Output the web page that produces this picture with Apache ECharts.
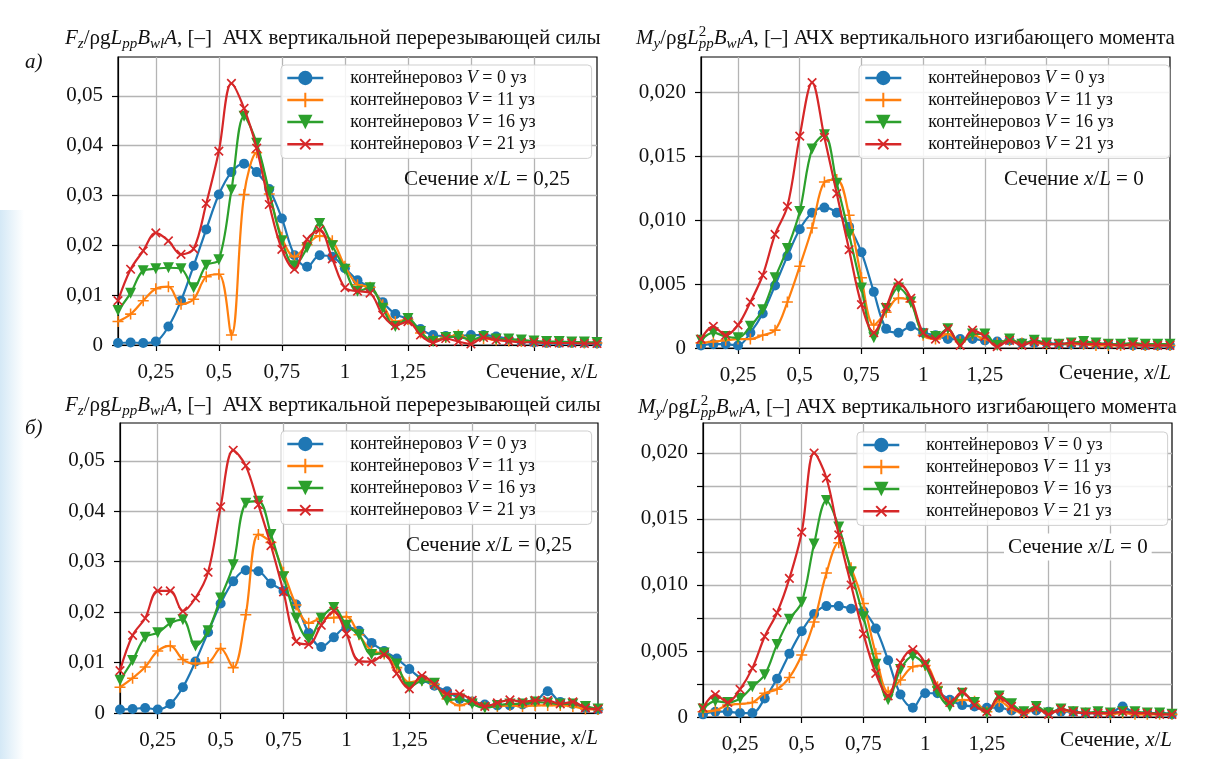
<!DOCTYPE html>
<html>
<head>
<meta charset="utf-8">
<script src="https://cdn.jsdelivr.net/npm/echarts@6/dist/echarts.min.js"></script>
<style>
  html, body { margin: 0; padding: 0; background: #fff; }
  #main { width: 1226px; height: 759px; }
</style>
</head>
<body>
<div id="main"></div>
<script>
// сечения x/L
var sections = [0.10, 0.15, 0.20, 0.25, 0.30, 0.35, 0.40, 0.45, 0.50,
  0.55, 0.60, 0.65, 0.70, 0.75, 0.80, 0.85, 0.90, 0.95, 1.00,
  1.05, 1.10, 1.15, 1.20, 1.25, 1.30, 1.35, 1.40, 1.45, 1.50,
  1.55, 1.60, 1.65, 1.70, 1.75, 1.80, 1.85, 1.90, 1.95, 2.00];

var seriesNames = ['контейнеровоз V = 0 уз', 'контейнеровоз V = 11 уз',
  'контейнеровоз V = 16 уз', 'контейнеровоз V = 21 уз'];

var xTickValues = [0.25, 0.5, 0.75, 1, 1.25, 1.5, 1.75];
var xLabelValues = [0.25, 0.5, 0.75, 1, 1.25];

// а) перерезывающая сила, x/L = 0,25
var shearTop_v0 = [0.0004, 0.0005, 0.0004, 0.0007, 0.0037, 0.0089, 0.0159, 0.0232, 0.0302,
  0.0347, 0.0364, 0.0347, 0.0313, 0.0254, 0.0180, 0.0157, 0.0180, 0.0177, 0.0154,
  0.0130, 0.0115, 0.0086, 0.0062, 0.0052, 0.0032, 0.0020, 0.0018, 0.0018, 0.0020,
  0.0020, 0.0017, 0.0012, 0.0008, 0.0005, 0.0004, 0.0004, 0.0004, 0.0004, 0.0003];
var shearTop_v11 = [0.0047, 0.0062, 0.0089, 0.0113, 0.0117, 0.0082, 0.0092, 0.0137, 0.0142,
  0.0020, 0.0302, 0.0386, 0.0303, 0.0216, 0.0177, 0.0201, 0.0219, 0.0209, 0.0158,
  0.0121, 0.0116, 0.0081, 0.0047, 0.0051, 0.0024, 0.0010, 0.0015, 0.0020, 0.0010,
  0.0013, 0.0010, 0.0008, 0.0007, 0.0006, 0.0005, 0.0005, 0.0005, 0.0004, 0.0004];
var shearTop_v16 = [0.0069, 0.0104, 0.0149, 0.0153, 0.0155, 0.0153, 0.0115, 0.0160, 0.0171,
  0.0311, 0.0459, 0.0405, 0.0307, 0.0209, 0.0159, 0.0195, 0.0244, 0.0199, 0.0152,
  0.0108, 0.0115, 0.0074, 0.0037, 0.0053, 0.0027, 0.0007, 0.0015, 0.0017, 0.0010,
  0.0017, 0.0012, 0.0012, 0.0010, 0.0008, 0.0007, 0.0007, 0.0006, 0.0006, 0.0005];
var shearTop_v21 = [0.0089, 0.0152, 0.0189, 0.0225, 0.0209, 0.0182, 0.0193, 0.0284, 0.0389,
  0.0525, 0.0475, 0.0395, 0.0282, 0.0192, 0.0152, 0.0212, 0.0231, 0.0173, 0.0115,
  0.0108, 0.0104, 0.0060, 0.0039, 0.0047, 0.0020, 0.0005, 0.0013, 0.0007, 0.0002,
  0.0015, 0.0010, 0.0008, 0.0005, 0.0006, 0.0004, 0.0004, 0.0004, 0.0003, 0.0003];

// а) изгибающий момент, x/L = 0
var momentTop_v0 = [0.0002, 0.0003, 0.0003, 0.0002, 0.0012, 0.0027, 0.0049, 0.0072, 0.0093,
  0.0106, 0.0110, 0.0106, 0.0095, 0.0075, 0.0044, 0.0015, 0.0012, 0.0017, 0.0012,
  0.0010, 0.0007, 0.0007, 0.0007, 0.0006, 0.0005, 0.0006, 0.0004, 0.0004, 0.0004,
  0.0003, 0.0003, 0.0003, 0.0003, 0.0003, 0.0003, 0.0002, 0.0002, 0.0002, 0.0002];
var momentTop_v11 = [0.0004, 0.0005, 0.0006, 0.0007, 0.0007, 0.0010, 0.0014, 0.0036, 0.0064,
  0.0094, 0.0130, 0.0132, 0.0104, 0.0055, 0.0018, 0.0028, 0.0039, 0.0036, 0.0010,
  0.0007, 0.0011, 0.0005, 0.0010, 0.0007, 0.0004, 0.0006, 0.0004, 0.0004, 0.0003,
  0.0003, 0.0003, 0.0003, 0.0002, 0.0002, 0.0002, 0.0002, 0.0002, 0.0002, 0.0002];
var momentTop_v16 = [0.0006, 0.0012, 0.0009, 0.0008, 0.0017, 0.0030, 0.0055, 0.0078, 0.0107,
  0.0156, 0.0167, 0.0129, 0.0089, 0.0047, 0.0008, 0.0031, 0.0047, 0.0036, 0.0011,
  0.0009, 0.0015, 0.0003, 0.0011, 0.0011, 0.0002, 0.0007, 0.0003, 0.0006, 0.0004,
  0.0003, 0.0004, 0.0005, 0.0004, 0.0003, 0.0003, 0.0004, 0.0003, 0.0003, 0.0003];
var momentTop_v21 = [0.0007, 0.0017, 0.0010, 0.0018, 0.0036, 0.0057, 0.0089, 0.0111, 0.0166,
  0.0208, 0.0165, 0.0121, 0.0077, 0.0034, 0.0012, 0.0032, 0.0051, 0.0039, 0.0012,
  0.0007, 0.0015, 0.0002, 0.0014, 0.0009, 0.0001, 0.0006, 0.0002, 0.0005, 0.0003,
  0.0003, 0.0004, 0.0003, 0.0003, 0.0003, 0.0002, 0.0003, 0.0002, 0.0002, 0.0002];

// б) перерезывающая сила, x/L = 0,25
var shearBottom_v0 = [0.0007, 0.0008, 0.0010, 0.0007, 0.0018, 0.0051, 0.0102, 0.0160, 0.0217,
  0.0261, 0.0283, 0.0281, 0.0257, 0.0242, 0.0215, 0.0159, 0.0131, 0.0150, 0.0170,
  0.0163, 0.0139, 0.0123, 0.0108, 0.0087, 0.0067, 0.0054, 0.0043, 0.0028, 0.0023,
  0.0017, 0.0015, 0.0015, 0.0017, 0.0022, 0.0043, 0.0022, 0.0018, 0.0010, 0.0007];
var shearBottom_v11 = [0.0051, 0.0069, 0.0091, 0.0123, 0.0133, 0.0106, 0.0098, 0.0100, 0.0128,
  0.0090, 0.0195, 0.0354, 0.0338, 0.0279, 0.0214, 0.0178, 0.0188, 0.0189, 0.0191,
  0.0155, 0.0123, 0.0117, 0.0090, 0.0061, 0.0065, 0.0057, 0.0028, 0.0015, 0.0022,
  0.0012, 0.0013, 0.0015, 0.0013, 0.0015, 0.0015, 0.0015, 0.0013, 0.0008, 0.0007];
var shearBottom_v16 = [0.0065, 0.0104, 0.0150, 0.0159, 0.0178, 0.0185, 0.0133, 0.0163, 0.0228,
  0.0294, 0.0416, 0.0420, 0.0354, 0.0270, 0.0188, 0.0146, 0.0188, 0.0209, 0.0174,
  0.0155, 0.0116, 0.0119, 0.0097, 0.0051, 0.0063, 0.0059, 0.0025, 0.0028, 0.0018,
  0.0010, 0.0015, 0.0018, 0.0018, 0.0022, 0.0020, 0.0018, 0.0018, 0.0013, 0.0008];
var shearBottom_v21 = [0.0084, 0.0154, 0.0188, 0.0242, 0.0242, 0.0202, 0.0228, 0.0279, 0.0409,
  0.0521, 0.0490, 0.0413, 0.0332, 0.0240, 0.0142, 0.0136, 0.0174, 0.0202, 0.0157,
  0.0103, 0.0102, 0.0116, 0.0078, 0.0048, 0.0074, 0.0057, 0.0038, 0.0038, 0.0025,
  0.0013, 0.0020, 0.0026, 0.0022, 0.0025, 0.0025, 0.0018, 0.0022, 0.0010, 0.0008];

// б) изгибающий момент, x/L = 0
var momentBottom_v0 = [0.0002, 0.0004, 0.0004, 0.0003, 0.0003, 0.0014, 0.0029, 0.0048, 0.0065,
  0.0078, 0.0084, 0.0084, 0.0082, 0.0080, 0.0067, 0.0043, 0.0017, 0.0007, 0.0018,
  0.0018, 0.0013, 0.0009, 0.0008, 0.0007, 0.0007, 0.0005, 0.0004, 0.0005, 0.0004,
  0.0004, 0.0004, 0.0003, 0.0003, 0.0003, 0.0008, 0.0003, 0.0003, 0.0003, 0.0002];
var momentBottom_v11 = [0.0004, 0.0005, 0.0009, 0.0010, 0.0011, 0.0018, 0.0021, 0.0030, 0.0047,
  0.0072, 0.0109, 0.0132, 0.0113, 0.0086, 0.0048, 0.0019, 0.0028, 0.0038, 0.0039,
  0.0023, 0.0011, 0.0013, 0.0012, 0.0004, 0.0012, 0.0006, 0.0003, 0.0006, 0.0003,
  0.0005, 0.0004, 0.0003, 0.0003, 0.0002, 0.0003, 0.0002, 0.0002, 0.0002, 0.0002];
var momentBottom_v16 = [0.0006, 0.0012, 0.0011, 0.0014, 0.0023, 0.0032, 0.0055, 0.0074, 0.0087,
  0.0131, 0.0164, 0.0144, 0.0110, 0.0076, 0.0040, 0.0013, 0.0036, 0.0046, 0.0039,
  0.0019, 0.0008, 0.0018, 0.0011, 0.0003, 0.0016, 0.0010, 0.0004, 0.0008, 0.0003,
  0.0006, 0.0004, 0.0003, 0.0004, 0.0003, 0.0004, 0.0004, 0.0003, 0.0003, 0.0002];
var momentBottom_v21 = [0.0007, 0.0017, 0.0011, 0.0021, 0.0037, 0.0061, 0.0079, 0.0105, 0.0140,
  0.0200, 0.0181, 0.0138, 0.0100, 0.0063, 0.0033, 0.0016, 0.0041, 0.0051, 0.0041,
  0.0023, 0.0011, 0.0019, 0.0009, 0.0004, 0.0015, 0.0008, 0.0003, 0.0007, 0.0002,
  0.0006, 0.0004, 0.0003, 0.0003, 0.0003, 0.0004, 0.0003, 0.0003, 0.0002, 0.0002];

var FONT = 'Liberation Serif';
var colors = ['#1f77b4', '#ff7f0e', '#2ca02c', '#d62728'];
var PLUS = 'path://M4.3,0H5.7V4.3H10V5.7H5.7V10H4.3V5.7H0V4.3H4.3Z';
var TRI_DOWN = 'path://M0,0L10,0L5,8.7Z';
var symbols = [
  { symbol: 'circle', symbolSize: 10, symbolRotate: 0 },
  { symbol: PLUS, symbolSize: 11, symbolRotate: 0 },
  { symbol: TRI_DOWN, symbolSize: 11, symbolRotate: 0 },
  { symbol: PLUS, symbolSize: 12, symbolRotate: 45 }
];

var panels = [
  { grid: { left: 118, top: 57, width: 479, height: 288 }, yMax: 0.0578, yStep: 0.01, digits: 2, yLabelStep: 0.01,
    legendPos: { left: 281, top: 65 },
    data: [shearTop_v0, shearTop_v11, shearTop_v16, shearTop_v21] },
  { grid: { left: 701, top: 57, width: 469, height: 291 }, yMax: 0.0228, yStep: 0.005, digits: 3, yLabelStep: 0.005,
    legendPos: { left: 859, top: 65 },
    data: [momentTop_v0, momentTop_v11, momentTop_v16, momentTop_v21] },
  { grid: { left: 120, top: 423, width: 478, height: 290 }, yMax: 0.0575, yStep: 0.01, digits: 2, yLabelStep: 0.01,
    legendPos: { left: 281, top: 431 },
    data: [shearBottom_v0, shearBottom_v11, shearBottom_v16, shearBottom_v21] },
  { grid: { left: 703, top: 423, width: 469, height: 294 }, yMax: 0.02227, yStep: 0.0025, digits: 3, yLabelStep: 0.005,
    legendPos: { left: 857, top: 432 },
    data: [momentBottom_v0, momentBottom_v11, momentBottom_v16, momentBottom_v21] }
];

function fmtNum(v, digits) {
  if (Math.abs(v) < 1e-9) return '0';
  return v.toFixed(digits).replace('.', ',');
}

var grids = [], xAxes = [], yAxes = [], series = [], legends = [];

panels.forEach(function (p, gi) {
  grids.push(Object.assign({ show: true, borderColor: '#000', borderWidth: 1.2, backgroundColor: 'transparent' }, p.grid));
  xAxes.push({
    type: 'value', gridIndex: gi, min: 0.1, max: 2.0,
    axisLine: { show: true, lineStyle: { color: '#000', width: 1.2 } },
    axisTick: { show: true, length: 6, lineStyle: { color: '#000', width: 1.2 }, customValues: xTickValues },
    axisLabel: { customValues: xLabelValues, margin: 17, color: '#111', fontFamily: FONT, fontSize: 21,
      formatter: function (v) { return String(v).replace('.', ','); } },
    splitLine: { show: true, lineStyle: { color: '#b4b4b4', width: 1.3 } }
  });
  var yTicks = [];
  for (var k = 0; k * p.yStep <= p.yMax + 1e-9; k++) yTicks.push(+(k * p.yStep).toFixed(5));
  yAxes.push({
    type: 'value', gridIndex: gi, min: 0, max: p.yMax,
    axisLine: { show: true, lineStyle: { color: '#000', width: 1.2 } },
    axisTick: { show: true, length: 6, lineStyle: { color: '#000', width: 1.2 }, customValues: yTicks },
    axisLabel: { customValues: yTicks, margin: 15, color: '#111', fontFamily: FONT, fontSize: 21,
      formatter: function (v) {
        var r = v / p.yLabelStep;
        if (Math.abs(r - Math.round(r)) > 1e-6) return '';
        return fmtNum(v, p.digits);
      } },
    splitLine: { show: true, lineStyle: { color: '#b4b4b4', width: 1.3 } }
  });
  p.data.forEach(function (arr, si) {
    series.push({
      type: 'line', name: seriesNames[si], xAxisIndex: gi, yAxisIndex: gi,
      data: sections.map(function (x, i) { return [x, arr[i]]; }),
      smooth: 0.35,
      symbol: symbols[si].symbol, symbolSize: symbols[si].symbolSize, symbolRotate: symbols[si].symbolRotate,
      showAllSymbol: true,
      lineStyle: { color: colors[si], width: 2.2 },
      itemStyle: { color: colors[si], borderWidth: 0 },
      z: 3 + si
    });
  });
  legends.push({
    data: seriesNames, orient: 'vertical',
    left: p.legendPos.left, top: p.legendPos.top,
    itemWidth: 36, itemHeight: 18, itemGap: 2,
    padding: [3, 56, 4, 5],
    backgroundColor: 'rgba(255,255,255,0.85)', borderColor: '#cfcfcf', borderWidth: 1, borderRadius: 4,
    selectedMode: false,
    lineStyle: { width: 2.6 },
    textStyle: { fontFamily: FONT, fontSize: 18, lineHeight: 20, color: '#111', padding: [0, 0, 0, 22],
      rich: { i: { fontFamily: FONT, fontSize: 18, lineHeight: 20, fontStyle: 'italic', color: '#111' } } },
    formatter: function (name) { return name.replace(' V ', ' {i|V} '); }
  });
});

var richTitle = {
  n: { fontFamily: FONT, fontSize: 21, color: '#111', lineHeight: 27, verticalAlign: 'middle' },
  i: { fontFamily: FONT, fontSize: 21, fontStyle: 'italic', color: '#111', lineHeight: 27, verticalAlign: 'middle' },
  s: { fontFamily: FONT, fontSize: 15, fontStyle: 'italic', color: '#111', lineHeight: 27, verticalAlign: 'bottom' },
  u: { fontFamily: FONT, fontSize: 15, color: '#111', lineHeight: 27, verticalAlign: 'top', width: 0 }
};
var shearTitle = '{i|F}{s|z}{n|/ρg}{i|L}{s|pp}{i|B}{s|wl}{i|A}{n|, [–]  АЧХ вертикальной перерезывающей силы}';
var momentTitle = '{i|M}{s|y}{n|/ρg}{i|L}{u|2}{s|pp}{i|B}{s|wl}{i|A}{n|, [–] АЧХ вертикального изгибающего момента}';

function textEl(x, y, text, align, extra) {
  return {
    type: 'text', x: x, y: y, z: 10,
    style: Object.assign({ text: text, rich: richTitle, align: align || 'left', verticalAlign: 'middle',
      font: '21px ' + FONT, fill: '#111' }, extra || {})
  };
}

var graphics = [
  { type: 'rect', shape: { x: 0, y: 210, width: 24, height: 549 }, z: -10,
    style: { fill: new echarts.graphic.LinearGradient(0, 0, 1, 0, [
      { offset: 0, color: 'rgba(160,205,235,0.45)' }, { offset: 1, color: 'rgba(160,205,235,0)' }]) } },
  textEl(65, 38, shearTitle),
  textEl(636, 38, momentTitle),
  textEl(65, 405, shearTitle),
  textEl(638, 407, momentTitle),
  textEl(25, 62, '{i|а)}'),
  textEl(25, 428, '{i|б)}'),
  textEl(404, 179, '{n|Сечение }{i|x}{n|/}{i|L}{n| = 0,25}'),
  textEl(1004, 179, '{n|Сечение }{i|x}{n|/}{i|L}{n| = 0}'),
  textEl(406, 545, '{n|Сечение }{i|x}{n|/}{i|L}{n| = 0,25}'),
  textEl(1004, 547, '{n|Сечение }{i|x}{n|/}{i|L}{n| = 0}', 'left', { backgroundColor: '#fff', padding: [0, 4, 0, 4] }),
  textEl(598, 372, '{n|Сечение, }{i|x}{n|/}{i|L}', 'right'),
  textEl(1171, 373, '{n|Сечение, }{i|x}{n|/}{i|L}', 'right'),
  textEl(598, 738, '{n|Сечение, }{i|x}{n|/}{i|L}', 'right'),
  textEl(1172, 740, '{n|Сечение, }{i|x}{n|/}{i|L}', 'right')
];

var myChart = echarts.init(document.getElementById('main'), null, { renderer: 'canvas' });
myChart.setOption({
  animation: false,
  backgroundColor: '#fff',
  textStyle: { fontFamily: FONT },
  grid: grids,
  xAxis: xAxes,
  yAxis: yAxes,
  legend: legends,
  series: series,
  graphic: graphics
});
</script>
</body>
</html>
